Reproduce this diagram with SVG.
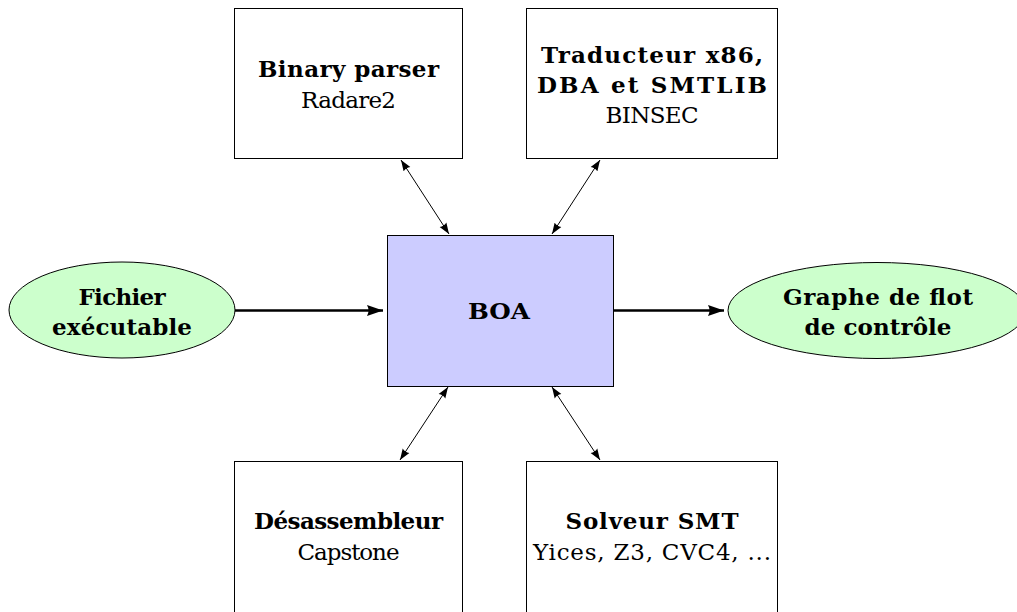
<svg xmlns="http://www.w3.org/2000/svg" width="1017" height="612" viewBox="0 0 1017 612">
<style>
.box{fill:#ffffff;stroke:#000;stroke-width:1}
.core{fill:#ccccff;stroke:#000;stroke-width:1}
.ell{fill:#ccffcc;stroke:#000;stroke-width:1}
text{font-family:"DejaVu Serif","Liberation Serif",serif;font-size:23px;text-anchor:middle;fill:#000}
.b{font-weight:bold}
.thin{stroke:#000;stroke-width:1;fill:none}
.thick{stroke:#000;stroke-width:2.4;fill:none}
</style>
<defs>
<marker id="ah" markerUnits="userSpaceOnUse" markerWidth="12" markerHeight="9" refX="11" refY="4" orient="auto-start-reverse" viewBox="0 0 12 8">
<path d="M0,0 L11,4 L0,8 Q2,4 0,0 z" fill="#000"/>
</marker>
<marker id="ahb" markerUnits="userSpaceOnUse" markerWidth="17" markerHeight="12" refX="16" refY="6" orient="auto" viewBox="0 0 17 12">
<path d="M0,0.5 L16,6 L0,11.5 Q3,6 0,0.5 z" fill="#000"/>
</marker>
</defs>
<g id="connectors">
<line class="thick" x1="235" y1="310.5" x2="383" y2="310.5" marker-end="url(#ahb)"/>
<line class="thick" x1="613" y1="310.5" x2="724" y2="310.5" marker-end="url(#ahb)"/>
<line class="thin" x1="401" y1="160" x2="449" y2="234" marker-start="url(#ah)" marker-end="url(#ah)"/>
<line class="thin" x1="600" y1="160" x2="552" y2="234" marker-start="url(#ah)" marker-end="url(#ah)"/>
<line class="thin" x1="448" y1="387" x2="400" y2="460" marker-start="url(#ah)" marker-end="url(#ah)"/>
<line class="thin" x1="552" y1="387" x2="600" y2="460" marker-start="url(#ah)" marker-end="url(#ah)"/>
</g>
<g id="boa">
<rect class="core" x="387.5" y="235.5" width="226" height="151"/>
<text class="b" x="499" y="319" textLength="62" lengthAdjust="spacingAndGlyphs">BOA</text>
</g>
<g id="binary-parser">
<rect class="box" x="234.5" y="8.5" width="228" height="150"/>
<text class="b" x="348.5" y="77" textLength="181">Binary parser</text>
<text x="348.5" y="108" textLength="95">Radare2</text>
</g>
<g id="traducteur">
<rect class="box" x="526.5" y="8.5" width="251" height="150"/>
<text class="b" x="652" y="63" textLength="222">Traducteur x86,</text>
<text class="b" x="652" y="93" textLength="230">DBA et SMTLIB</text>
<text x="652" y="123" textLength="93">BINSEC</text>
</g>
<g id="desassembleur">
<rect class="box" x="234.5" y="461.5" width="228" height="200"/>
<text class="b" x="348.5" y="529" textLength="189">Désassembleur</text>
<text x="348.5" y="560" textLength="102">Capstone</text>
</g>
<g id="solveur">
<rect class="box" x="526.5" y="461.5" width="251" height="200"/>
<text class="b" x="652" y="529" textLength="173">Solveur SMT</text>
<text x="652" y="560" textLength="238">Yices, Z3, CVC4, ...</text>
</g>
<g id="fichier">
<ellipse class="ell" cx="122" cy="310" rx="113" ry="48"/>
<text class="b" x="122" y="305" textLength="87">Fichier</text>
<text class="b" x="122" y="335" textLength="140">exécutable</text>
</g>
<g id="graphe">
<ellipse class="ell" cx="877" cy="310.5" rx="149" ry="48"/>
<text class="b" x="878" y="305" textLength="190">Graphe de flot</text>
<text class="b" x="878" y="335" textLength="147">de contrôle</text>
</g>
</svg>
